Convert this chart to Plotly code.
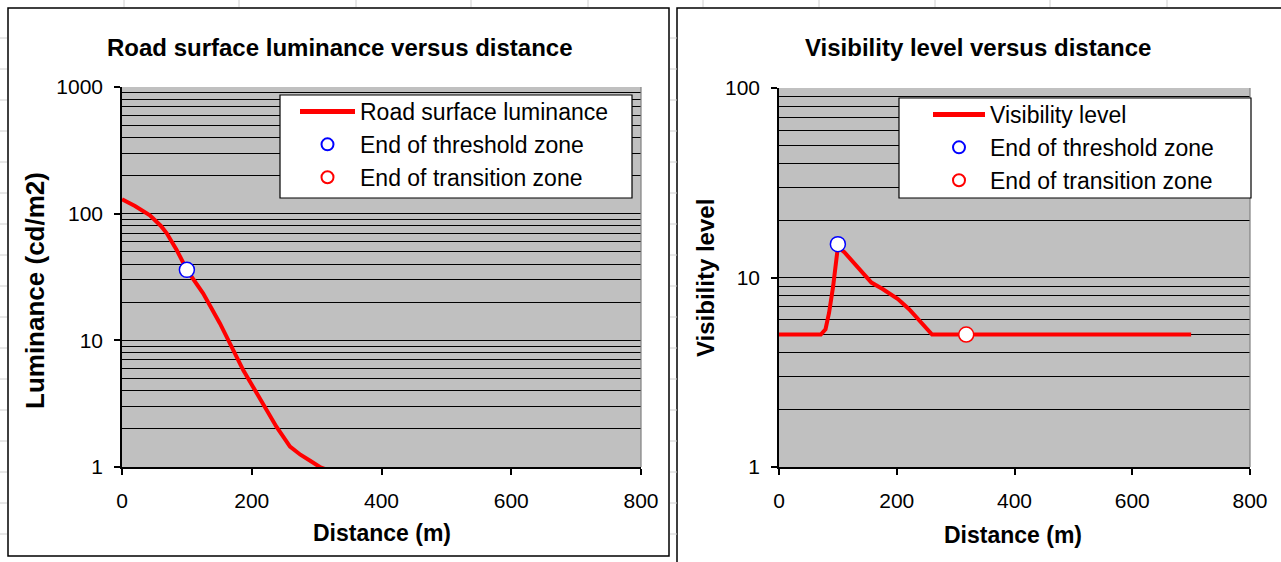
import plotly.graph_objects as go

# ---------------- data ----------------
lum_distance = [0, 20, 43, 60, 69, 84, 100, 125, 151, 166, 187, 208, 223, 238, 259, 275, 290, 305, 316, 336]
luminance = [130, 115, 97, 80, 70, 52, 36, 23.5, 13.6, 9.5, 5.8, 3.8, 2.8, 2.08, 1.45, 1.25, 1.12, 1.0, 0.95, 0.9]
lum_threshold_x = [100]
lum_threshold_y = [36]
lum_transition_x = [318]
lum_transition_y = [0.85]

vis_distance = [0, 71, 79, 85, 92, 100, 111, 131, 157, 176, 202, 221, 241, 260, 318, 700]
visibility = [5.0, 5.0, 5.33, 6.5, 9.0, 14.5, 13.6, 11.5, 9.4, 8.7, 7.7, 6.8, 5.8, 5.0, 5.0, 5.0]
vis_threshold_x = [100]
vis_threshold_y = [15]
vis_transition_x = [318]
vis_transition_y = [5.0]

x_ticks = [0, 200, 400, 600, 800]
lum_ticks = [1, 10, 100, 1000]
vis_ticks = [1, 10, 100]

titles = ["Road surface luminance versus distance", "Visibility level versus distance"]
y_titles = ["Luminance (cd/m2)", "Visibility level"]
x_title = "Distance (m)"

# ---------------- layout helpers ----------------
W, H = 1281, 562
FONT = "Liberation Sans, Arial, sans-serif"

def px(x):
    return x / W

def py(y):
    return 1 - y / H

fig = go.Figure()

line_style = dict(color="#ff0000", width=4)
def marker_style(col):
    return dict(symbol="circle", size=15, color="white", line=dict(color=col, width=1.5))

fig.add_trace(go.Scatter(x=lum_distance, y=luminance, mode="lines", name="Road surface luminance",
                         line=line_style, xaxis="x", yaxis="y", legend="legend", cliponaxis=False))
fig.add_trace(go.Scatter(x=lum_threshold_x, y=lum_threshold_y, mode="markers", name="End of threshold zone",
                         marker=marker_style("#0000ff"), xaxis="x", yaxis="y", legend="legend"))
fig.add_trace(go.Scatter(x=lum_transition_x, y=lum_transition_y, mode="markers", name="End of transition zone",
                         marker=marker_style("#ff0000"), xaxis="x", yaxis="y", legend="legend"))

fig.add_trace(go.Scatter(x=vis_distance, y=visibility, mode="lines", name="Visibility level",
                         line=line_style, xaxis="x2", yaxis="y2", legend="legend2"))
fig.add_trace(go.Scatter(x=vis_threshold_x, y=vis_threshold_y, mode="markers", name="End of threshold zone",
                         marker=marker_style("#0000ff"), xaxis="x2", yaxis="y2", legend="legend2"))
fig.add_trace(go.Scatter(x=vis_transition_x, y=vis_transition_y, mode="markers", name="End of transition zone",
                         marker=marker_style("#ff0000"), xaxis="x2", yaxis="y2", legend="legend2"))

tickfont = dict(family=FONT, size=21, color="black")

def xaxis_cfg(x0, x1, anchor):
    return dict(domain=[px(x0), px(x1)], range=[0, 800], tickmode="array", tickvals=x_ticks,
                ticktext=[str(v) for v in x_ticks], ticks="outside", ticklen=6, tickwidth=1.5,
                tickcolor="black", showline=True, linecolor="black", linewidth=1.5,
                showgrid=False, zeroline=False, tickfont=tickfont, anchor=anchor,
                ticklabelstandoff=8, automargin=False, fixedrange=True)

def yaxis_cfg(y0, y1, ticks, anchor):
    decades = len(ticks) - 1
    minor_vals = [m * 10 ** k for k in range(decades) for m in range(2, 10)]
    return dict(domain=[py(y1), py(y0)], type="log", range=[0, decades], tickmode="array",
                tickvals=ticks, ticktext=[str(v) for v in ticks], ticks="outside", ticklen=6,
                tickwidth=1.5, tickcolor="black", showline=True, linecolor="black", linewidth=1.5,
                showgrid=True, gridcolor="black", gridwidth=1.2, zeroline=False, tickfont=tickfont,
                minor=dict(tickmode="array", tickvals=minor_vals, showgrid=True, gridcolor="black",
                           gridwidth=1.2, ticks=""),
                anchor=anchor, ticklabelstandoff=7, automargin=False, fixedrange=True)

# plot areas (pixels)
L = dict(x0=122, x1=641, y0=87, y1=467)
R = dict(x0=779, x1=1250, y0=88, y1=467)

legend_font = dict(family=FONT, size=23, color="black")

fig.update_layout(
    width=W, height=H, margin=dict(l=0, r=0, t=0, b=0),
    paper_bgcolor="white", plot_bgcolor="#c0c0c0",
    xaxis=xaxis_cfg(L["x0"], L["x1"], "y"),
    yaxis=yaxis_cfg(L["y0"], L["y1"], lum_ticks, "x"),
    xaxis2=xaxis_cfg(R["x0"], R["x1"], "y2"),
    yaxis2=yaxis_cfg(R["y0"], R["y1"], vis_ticks, "x2"),
    legend=dict(x=px(295), y=py(90), xanchor="left", yanchor="top", bgcolor="rgba(0,0,0,0)",
                borderwidth=0, font=legend_font, itemwidth=55, tracegroupgap=0, itemsizing="constant"),
    legend2=dict(x=px(928), y=py(93), xanchor="left", yanchor="top", bgcolor="rgba(0,0,0,0)",
                 borderwidth=0, font=legend_font, itemwidth=52, tracegroupgap=0, itemsizing="constant"),
    showlegend=True,
)

shapes = []
# faint spreadsheet grid visible around the charts
sheet_grey = "#d0d0d0"
for cx in [124, 239, 356, 471, 588, 703, 819, 935, 1050, 1167]:
    shapes.append(dict(type="line", xref="paper", yref="paper", x0=px(cx), x1=px(cx), y0=py(0), y1=py(7),
                       line=dict(color=sheet_grey, width=1)))
for ry in range(38, 562, 31):
    shapes.append(dict(type="line", xref="paper", yref="paper", x0=px(0), x1=px(7), y0=py(ry), y1=py(ry),
                       line=dict(color=sheet_grey, width=1)))
    shapes.append(dict(type="line", xref="paper", yref="paper", x0=px(670), x1=px(677), y0=py(ry), y1=py(ry),
                       line=dict(color=sheet_grey, width=1)))
# chart frames
shapes.append(dict(type="rect", xref="paper", yref="paper", x0=px(8), x1=px(669), y0=py(556), y1=py(8),
                   line=dict(color="black", width=1.5), layer="below"))
shapes.append(dict(type="rect", xref="paper", yref="paper", x0=px(677), x1=px(1290), y0=py(570), y1=py(8),
                   line=dict(color="black", width=1.5), layer="below"))
# right edges of plot areas
for P in (L, R):
    shapes.append(dict(type="line", xref="paper", yref="paper", x0=px(P["x1"]), x1=px(P["x1"]),
                       y0=py(P["y1"]), y1=py(P["y0"]), line=dict(color="#808080", width=1.2)))
# legend boxes
shapes.append(dict(type="rect", xref="paper", yref="paper", x0=px(280), x1=px(632), y0=py(198), y1=py(95),
                   fillcolor="white", line=dict(color="black", width=1.2), layer="above"))
shapes.append(dict(type="rect", xref="paper", yref="paper", x0=px(899), x1=px(1251), y0=py(198), y1=py(98),
                   fillcolor="white", line=dict(color="black", width=1.2), layer="above"))
fig.update_layout(shapes=shapes)

bold = dict(family=FONT, size=24, color="black")
bold_x = dict(family=FONT, size=23, color="black")
ann = []
ann.append(dict(text="<b>%s</b>" % titles[0], x=px(340), y=py(47), xref="paper", yref="paper",
                showarrow=False, font=bold, xanchor="center", yanchor="middle"))
ann.append(dict(text="<b>%s</b>" % titles[1], x=px(978), y=py(47), xref="paper", yref="paper",
                showarrow=False, font=bold, xanchor="center", yanchor="middle"))
ann.append(dict(text="<b>%s</b>" % x_title, x=px(382), y=py(533), xref="paper", yref="paper",
                showarrow=False, font=bold_x, xanchor="center", yanchor="middle"))
ann.append(dict(text="<b>%s</b>" % x_title, x=px(1013), y=py(535), xref="paper", yref="paper",
                showarrow=False, font=bold_x, xanchor="center", yanchor="middle"))
ann.append(dict(text="<b>%s</b>" % y_titles[0], x=px(35), y=py(291), xref="paper", yref="paper",
                showarrow=False, font=dict(family=FONT, size=26, color="black"), textangle=-90,
                xanchor="center", yanchor="middle"))
ann.append(dict(text="<b>%s</b>" % y_titles[1], x=px(705), y=py(278), xref="paper", yref="paper",
                showarrow=False, font=dict(family=FONT, size=24, color="black"), textangle=-90,
                xanchor="center", yanchor="middle"))
fig.update_layout(annotations=ann)

fig.write_html("out.html")
